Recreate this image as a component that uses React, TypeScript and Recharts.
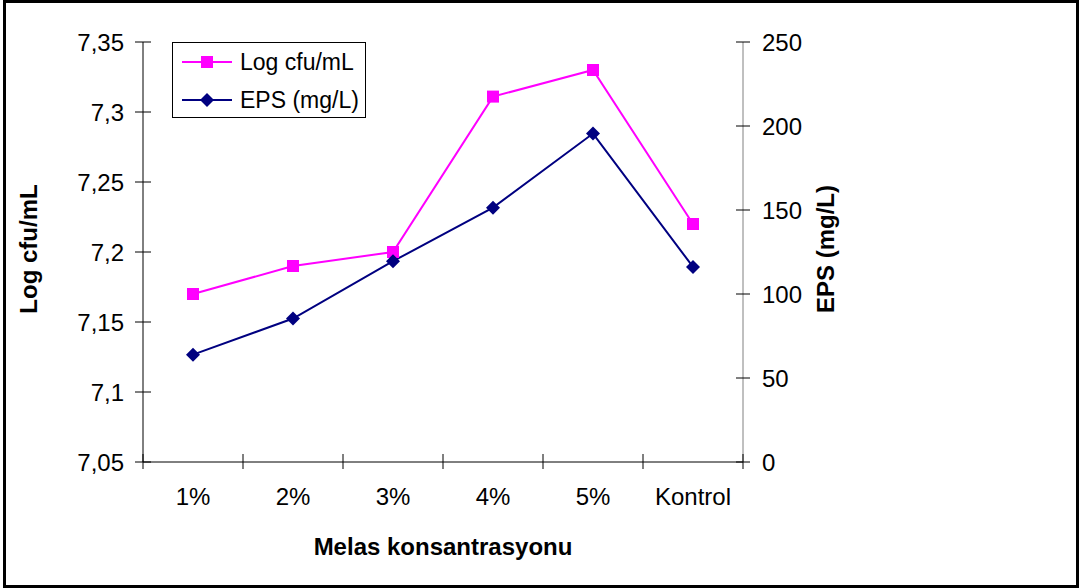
import React from "react";
import { ComposedChart, Line, XAxis, YAxis, Legend, Label } from "recharts";

const categories = ["1%", "2%", "3%", "4%", "5%", "Kontrol"];
const logCfu = [7.17, 7.19, 7.2, 7.311, 7.33, 7.22];
const eps = [63.9, 85.4, 119.5, 151.4, 195.5, 116.1];
const leftTicks = [7.05, 7.1, 7.15, 7.2, 7.25, 7.3, 7.35];
const rightTicks = [0, 50, 100, 150, 200, 250];

const data = categories.map((name, i) => ({ name, logCfu: logCfu[i], eps: eps[i] }));

const FONT = '"Liberation Sans", Arial, sans-serif';
const PINK = "#FF00FF";
const NAVY = "#000080";

const Square = ({ cx, cy, color }: any) => (
  <rect x={cx - 6} y={cy - 6} width={12} height={12} fill={color} />
);
const Diamond = ({ cx, cy, color }: any) => (
  <polygon points={`${cx},${cy - 7} ${cx + 7},${cy} ${cx},${cy + 7} ${cx - 7},${cy}`} fill={color} />
);

function LeftTick({ x, y, payload }: any) {
  // tickSize 8, tickMargin 11 -> axis line at x + 19
  return (
    <g>
      <line x1={x + 11} x2={x + 27} y1={y} y2={y} stroke="#000" />
      <text x={x} y={y} textAnchor="end" dominantBaseline="central" fontSize={24} fontFamily={FONT} fill="#000">
        {String(payload.value).replace(".", ",")}
      </text>
    </g>
  );
}

function RightTick({ x, y, payload }: any) {
  // tickSize 7, tickMargin 12 -> axis line at x - 19
  return (
    <g>
      <line x1={x - 26} x2={x - 12} y1={y} y2={y} stroke="#000" />
      <text x={x} y={y} textAnchor="start" dominantBaseline="central" fontSize={24} fontFamily={FONT} fill="#000">
        {payload.value}
      </text>
    </g>
  );
}

function CatTick({ x, y, payload, index }: any) {
  const half = payload.offset || 50;
  const axisY = y - 34;
  return (
    <g>
      <line x1={x - half} x2={x - half} y1={axisY - 8} y2={axisY + 7} stroke="#000" />
      {index === categories.length - 1 && (
        <line x1={x + half} x2={x + half} y1={axisY - 8} y2={axisY + 7} stroke="#000" />
      )}
      <text x={x} y={y} textAnchor="middle" dominantBaseline="central" fontSize={24} fontFamily={FONT} fill="#000">
        {payload.value}
      </text>
    </g>
  );
}

function LegendBox() {
  const row = (label: string, color: string, marker: "square" | "diamond") => (
    <div style={{ display: "flex", alignItems: "center", height: 38 }}>
      <svg width={50} height={20} style={{ marginLeft: 9 }}>
        <line x1={0} x2={50} y1={10} y2={10} stroke={color} strokeWidth={2} />
        {marker === "square" ? <Square cx={25} cy={10} color={color} /> : <Diamond cx={25} cy={10} color={color} />}
      </svg>
      <span style={{ marginLeft: 8, lineHeight: "38px" }}>{label}</span>
    </div>
  );
  return (
    <div
      style={{
        width: 194,
        height: 76,
        boxSizing: "border-box",
        border: "1px solid #000",
        background: "#fff",
        fontFamily: FONT,
        fontSize: 23,
        color: "#000",
        paddingTop: 0,
      }}
    >
      {row("Log cfu/mL", PINK, "square")}
      {row("EPS (mg/L)", NAVY, "diamond")}
    </div>
  );
}

export default function App() {
  return (
    <div style={{ position: "absolute", left: 0, top: 0, width: 1082, height: 588, background: "#fff" }}>
      <ComposedChart
        width={1082}
        height={588}
        data={data}
        margin={{ top: 42, right: 219, bottom: 6, left: 8 }}
        style={{ fontFamily: FONT }}
      >
        <XAxis
          dataKey="name"
          scale="band"
          height={120}
          stroke="#000"
          tickLine={false}
          tickSize={8}
          tickMargin={26}
          tick={<CatTick />}
          interval={0}
        >
          <Label
            content={({ viewBox }: any) => (
              <text
                x={viewBox.x + viewBox.width / 2}
                y={viewBox.y + 84}
                textAnchor="middle"
                dominantBaseline="central"
                fontSize={24}
                fontWeight="bold"
                fontFamily={FONT}
                fill="#000"
              >
                Melas konsantrasyonu
              </text>
            )}
          />
        </XAxis>
        <YAxis
          yAxisId="left"
          width={135}
          domain={[7.05, 7.35]}
          ticks={leftTicks}
          stroke="#000"
          tickLine={false}
          tickSize={8}
          tickMargin={11}
          tick={<LeftTick />}
          interval={0}
        >
          <Label
            content={({ viewBox }: any) => {
              const cx = viewBox.x + 20;
              const cy = viewBox.y + viewBox.height / 2 - 3;
              return (
                <text
                  x={cx}
                  y={cy}
                  transform={`rotate(-90, ${cx}, ${cy})`}
                  textAnchor="middle"
                  dominantBaseline="central"
                  fontSize={24}
                  fontWeight="bold"
                  fontFamily={FONT}
                  fill="#000"
                >
                  Log cfu/mL
                </text>
              );
            }}
          />
        </YAxis>
        <YAxis
          yAxisId="right"
          orientation="right"
          width={120}
          domain={[0, 250]}
          ticks={rightTicks}
          stroke="#808080"
          tickLine={false}
          tickSize={7}
          tickMargin={12}
          tick={<RightTick />}
          interval={0}
        >
          <Label
            content={({ viewBox }: any) => {
              const cx = viewBox.x + 82;
              const cy = viewBox.y + viewBox.height / 2 - 3;
              return (
                <text
                  x={cx}
                  y={cy}
                  transform={`rotate(-90, ${cx}, ${cy})`}
                  textAnchor="middle"
                  dominantBaseline="central"
                  fontSize={24}
                  fontWeight="bold"
                  fontFamily={FONT}
                  fill="#000"
                >
                  EPS (mg/L)
                </text>
              );
            }}
          />
        </YAxis>
        <Legend
          layout="vertical"
          align="center"
          verticalAlign="middle"
          wrapperStyle={{ left: 172, top: 42, width: 194, height: 76 }}
          content={() => <LegendBox />}
        />
        <Line
          yAxisId="left"
          dataKey="logCfu"
          name="Log cfu/mL"
          type="linear"
          stroke={PINK}
          strokeWidth={2}
          isAnimationActive={false}
          dot={(p: any) => <Square key={`s${p.index}`} cx={p.cx} cy={p.cy} color={PINK} />}
          activeDot={false}
        />
        <Line
          yAxisId="right"
          dataKey="eps"
          name="EPS (mg/L)"
          type="linear"
          stroke={NAVY}
          strokeWidth={2}
          isAnimationActive={false}
          dot={(p: any) => <Diamond key={`d${p.index}`} cx={p.cx} cy={p.cy} color={NAVY} />}
          activeDot={false}
        />
      </ComposedChart>
      <div
        style={{
          position: "absolute",
          left: 3,
          top: 0,
          width: 1076,
          height: 588,
          boxSizing: "border-box",
          border: "3px solid #000",
          pointerEvents: "none",
        }}
      />
    </div>
  );
}
